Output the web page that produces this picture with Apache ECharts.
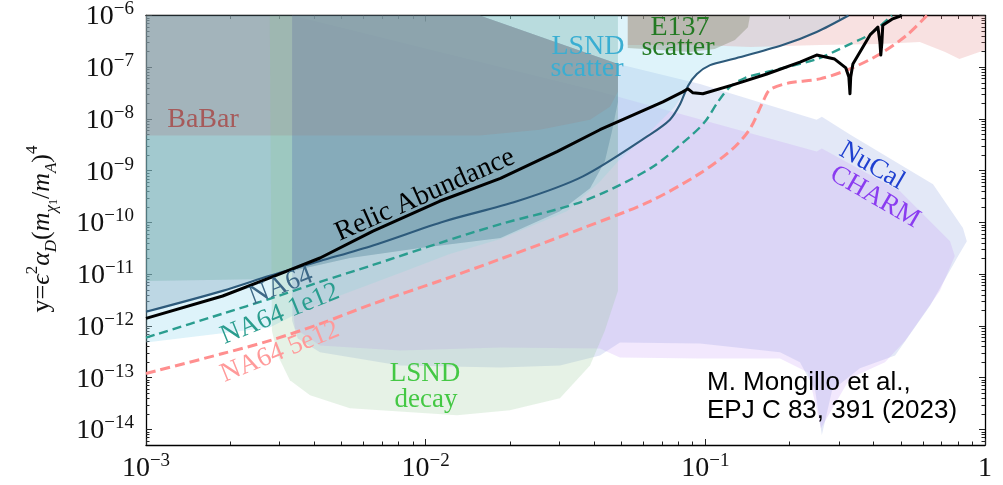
<!DOCTYPE html>
<html><head><meta charset="utf-8">
<script src="https://cdn.jsdelivr.net/npm/echarts@6/dist/echarts.min.js"></script>
<style>html,body{margin:0;padding:0;background:#fff}#c{width:1003px;height:485px}</style>
</head><body><div id="c"></div>
<script>
// ---- axis ticks (decade exponents) ----
const xTickExps = [-3, -2, -1, 0];
const yTickExps = [-14, -13, -12, -11, -10, -9, -8, -7, -6];

// ---- curves: [m_chi1 (GeV), y] ----
const relicAbundance = [[1e-3,1.4e-12],[1.88e-3,3.8e-12],[2.77e-3,8.5e-12],[4.19e-3,2.06e-11],[6.48e-3,6.8e-11],[1.12e-2,2.57e-10],[1.85e-2,7.1e-10],[2.95e-2,2.35e-9],[4.2e-2,6.2e-9],[7.05e-2,2.15e-8],[8.3e-2,3.35e-8],[8.67e-2,3.83e-8],[9.03e-2,3.2e-8],[9.8e-2,3.07e-8],[0.1255,4.57e-8],[0.166,7.4e-8],[0.218,1.26e-7],[0.25,1.72e-7],[0.29,1.44e-7],[0.318,9.7e-8],[0.326,6.5e-8],[0.329,3.07e-8],[0.331,6.5e-8],[0.337,1.16e-7],[0.388,4.2e-7],[0.414,5.96e-7],[0.421,3.07e-7],[0.424,1.72e-7],[0.428,3.07e-7],[0.431,6.5e-7],[0.465,8.5e-7],[0.504,1e-6]];
const na64 = [[1e-3,1.88e-12],[1.88e-3,4.77e-12],[2.77e-3,9.3e-12],[4.19e-3,1.8e-11],[6.48e-3,3.6e-11],[1.17e-2,1.06e-10],[2.12e-2,2.57e-10],[3.65e-2,7.8e-10],[6.34e-2,5e-9],[7.47e-2,9.7e-9],[8.1e-2,1.88e-8],[8.67e-2,4.36e-8],[9.33e-2,7.4e-8],[0.104,1.1e-7],[0.1255,1.44e-7],[0.189,2.68e-7],[0.25,4.8e-7],[0.325,1e-6]];
const na64_1e12 = [[1e-3,5.96e-13],[1.88e-3,1.73e-12],[2.77e-3,3.35e-12],[4.19e-3,7.1e-12],[6.48e-3,1.51e-11],[1.12e-2,4e-11],[1.85e-2,9.3e-11],[3.65e-2,2.57e-10],[6.34e-2,1.1e-9],[8.81e-2,4.57e-9],[0.0998,8.9e-9],[0.111,2.15e-8],[0.1225,4.18e-8],[0.1386,6.2e-8],[0.166,8.1e-8],[0.25,1.44e-7],[0.329,2.8e-7],[0.388,4.36e-7],[0.465,1e-6]];
const na64_5e12 = [[1e-3,1.21e-13],[1.88e-3,2.93e-13],[2.77e-3,5.2e-13],[4.19e-3,1.1e-12],[6.48e-3,2.68e-12],[1.12e-2,7.4e-12],[1.85e-2,1.97e-11],[3.65e-2,7.8e-11],[6.34e-2,2.57e-10],[9.57e-2,8.9e-10],[0.1255,2.68e-9],[0.1445,6.5e-9],[0.1607,2.15e-8],[0.17,3.66e-8],[0.2,5e-8],[0.257,5.96e-8],[0.329,9.3e-8],[0.421,1.8e-7],[0.526,4.2e-7],[0.62,1e-6]];

// ---- excluded regions (polygon outlines) ----
const nucalRegion = [[3.33e-3,1e-6],[0.0156,1e-6],[0.0487,1.16e-7],[0.0957,4.77e-8],[0.25,9.7e-9],[0.261,1.1e-8],[0.329,5e-9],[0.652,5.46e-10],[0.834,7.8e-11],[0.861,4.36e-11],[0.794,2.06e-11],[0.636,2.46e-12],[0.477,2.7e-13],[0.357,1.52e-13],[0.284,5.75e-14],[0.261,7.8e-15],[0.247,5.75e-14],[0.218,2e-13],[0.185,3.1e-13],[0.0957,4.6e-13],[0.0495,4.8e-13],[0.042,2.7e-13],[0.0302,1.73e-13],[0.0185,1.58e-13],[8.1e-3,1.73e-13],[4.19e-3,3.1e-13],[3.49e-3,5.75e-13],[3.33e-3,1.26e-12]];
const charmRegion = [[3.33e-3,1e-6],[0.042,3.35e-8],[0.25,2.35e-9],[0.261,2.7e-9],[0.497,4e-10],[0.75,4.36e-11],[0.78,2.25e-11],[0.69,4.8e-12],[0.518,5.2e-13],[0.439,2e-13],[0.329,9.8e-14],[0.259,1.06e-14],[0.233,1.26e-13],[0.185,2.35e-13],[0.0957,2.35e-13],[0.0495,2.45e-13],[0.042,3.66e-13],[0.0185,3.83e-13],[8.1e-3,3.35e-13],[4.19e-3,4.18e-13],[3.41e-3,8.9e-13],[3.33e-3,3.1e-12]];
const na64BandRegion = [[1e-3,4.8e-13],[2.77e-3,9.3e-13],[3.95e-3,2.46e-12],[8.1e-3,1.06e-11],[0.0122,2.45e-11],[0.0185,4.78e-11],[0.032,1.65e-10],[0.042,6.2e-10],[0.0487,1.51e-9],[0.0634,5.7e-9],[0.0778,1.72e-8],[0.0867,4.36e-8],[0.0933,7.4e-8],[0.104,1.1e-7],[0.1255,1.44e-7],[0.189,2.68e-7],[0.25,4.8e-7],[0.325,1e-6],[1e-3,1e-6]];
const na64Region = [[1e-3,1.88e-12],[1.88e-3,4.77e-12],[2.77e-3,9.3e-12],[4.19e-3,1.8e-11],[6.48e-3,3.6e-11],[1.17e-2,1.06e-10],[2.12e-2,2.57e-10],[3.65e-2,7.8e-10],[0.0487,2.04e-9],[0.0487,1.16e-7],[0.0156,1e-6],[1e-3,1e-6]];
const lsndScatterRegion = [[1e-3,1e-6],[0.0487,1e-6],[0.0487,2.15e-8],[0.0463,5.7e-9],[0.0437,1.51e-9],[0.0387,4.57e-10],[0.0302,1.65e-10],[0.0185,5e-11],[9.55e-3,3.2e-11],[5.36e-3,2.06e-11],[3.33e-3,1.16e-11],[2.77e-3,8.1e-12],[1e-3,7.4e-12]];
const e137Region = [[3.33e-3,1e-6],[0.0156,1e-6],[0.0487,1.16e-7],[0.0487,2.15e-8],[0.0463,5.7e-9],[0.0437,1.51e-9],[0.0387,4.57e-10],[0.0302,1.65e-10],[0.0185,5e-11],[9.55e-3,3.2e-11],[5.36e-3,2.06e-11],[3.33e-3,1.16e-11]];
const e137TopRegion = [[0.0528,1e-6],[0.1445,1e-6],[0.142,5.96e-7],[0.1276,3.35e-7],[0.108,2.25e-7],[0.0881,1.97e-7],[0.0689,2.15e-7],[0.0528,2.35e-7]];
const babarLowRegion = [[1e-3,1e-6],[0.0156,1e-6],[0.0487,1.16e-7],[0.0487,3.35e-8],[0.0456,1.72e-8],[0.0387,9.7e-9],[0.0256,6.2e-9],[0.0156,4.8e-9],[1e-3,4.8e-9]];
const babarHighRegion = [[0.0528,1e-6],[1,1e-6],[1,2.15e-7],[0.81,1.44e-7],[0.72,1.97e-7],[0.585,3.07e-7],[0.42,2.8e-7],[0.257,2.7e-7],[0.145,2.45e-7],[0.0957,2.7e-7],[0.0528,2.7e-7]];
const lsndDecayRegion = [[2.77e-3,1e-6],[0.0156,1e-6],[0.0487,1.16e-7],[0.0487,4.8e-12],[0.0437,8.1e-13],[0.0387,1.73e-13],[0.0302,4e-14],[0.02,2.36e-14],[0.01294,1.88e-14],[5.36e-3,2.57e-14],[3.86e-3,4.57e-14],[3.27e-3,8.9e-14],[2.96e-3,2.7e-13],[2.82e-3,8.1e-13]];

const X_MIN = 1e-3, X_MAX = 1, Y_MIN = Math.pow(10, -14.3), Y_MAX = 1e-6;
const SERIF = '"Liberation Serif", "DejaVu Serif", serif';
const SANS = '"Liberation Sans", Arial, sans-serif';

function decades(exps){ return exps.map(e => Math.pow(10, e)); }
function minorVals(lo, hi, vmin, vmax){
  const r = [];
  for (let e = lo; e < hi; e++) for (let k = 2; k <= 9; k++) { const v = k * Math.pow(10, e); if (v > vmin && v < vmax) r.push(v); }
  return r;
}
function fmtTick(v){
  const e = Math.round(Math.log10(v));
  if (e === 0) return '{b|1}';
  return '{b|10}{s|\u2212' + (-e) + '}';
}
const tickRich = {
  b: {fontSize: 28, fontFamily: SERIF, color: '#111', lineHeight: 31, verticalAlign: 'bottom'},
  s: {fontSize: 19, fontFamily: SERIF, color: '#111', lineHeight: 19, verticalAlign: 'top'}
};
function axis(kind, pos, vals, len, labels, line){
  return {
    type: 'log', logBase: 10, position: pos, gridIndex: 0,
    min: kind === 'x' ? X_MIN : Y_MIN, max: kind === 'x' ? X_MAX : Y_MAX,
    axisLine: {show: line, onZero: false, lineStyle: {color: '#000', width: 1.3}},
    axisTick: {show: true, inside: true, length: len, customValues: vals, lineStyle: {color: '#222', width: 1}},
    axisLabel: labels ? {show: true, customValues: vals, formatter: fmtTick, rich: tickRich, margin: kind === 'x' ? 7 : 12} : {show: false},
    splitLine: {show: false}, minorTick: {show: false}, minorSplitLine: {show: false}
  };
}
const xMaj = decades(xTickExps), yMaj = decades(yTickExps);
const xMin = minorVals(-3, 0, X_MIN, X_MAX), yMin = minorVals(-15, -6, Y_MIN, Y_MAX);

function poly(pts, color, z){
  return {type: 'custom', xAxisIndex: 0, yAxisIndex: 0, z: z, silent: true, clip: true,
    data: [[0.01, 1e-8]],
    renderItem: function(params, api){
      return {type: 'polygon', shape: {points: pts.map(p => api.coord(p))}, style: {fill: color, stroke: null}};
    }};
}
function line(data, color, width, dash, z, smooth){
  return {type: 'line', xAxisIndex: 0, yAxisIndex: 0, data: data, showSymbol: false, symbol: 'none', z: z, silent: true,
    smooth: smooth || false, clip: true,
    lineStyle: {color: color, width: width, type: dash || 'solid', cap: 'butt', join: 'round'}};
}
function lab(text, x, y, color, size, rotDeg, family){
  return {type: 'text', x: x, y: y, rotation: (rotDeg || 0) * Math.PI / 180, z: 100,
    style: {text: text, fill: color, fontSize: size, fontFamily: family || SERIF,
      textAlign: 'center', textVerticalAlign: 'middle', align: 'center', verticalAlign: 'middle'}};
}

const chart = echarts.init(document.getElementById('c'), null, {renderer: 'canvas'});
chart.setOption({
  animation: false,
  backgroundColor: '#fff',
  grid: {left: 146, right: 18, top: 13, bottom: 40, containLabel: false},
  xAxis: [
    axis('x', 'bottom', xMaj, 6, true, true),
    axis('x', 'top', xMaj, 6, false, true),
    axis('x', 'bottom', xMin, 3.5, false, false),
    axis('x', 'top', xMin, 3.5, false, false)
  ],
  yAxis: [
    axis('y', 'left', yMaj, 6, true, true),
    axis('y', 'right', yMaj, 6, false, true),
    axis('y', 'left', yMin, 3.5, false, false),
    axis('y', 'right', yMin, 3.5, false, false)
  ],
  series: [
    poly(nucalRegion, 'rgba(150,170,225,0.27)', 1),
    poly(charmRegion, 'rgba(192,142,247,0.2)', 2),
    poly(na64BandRegion, 'rgba(160,220,240,0.35)', 3),
    poly(na64Region, 'rgba(111,153,180,0.3)', 4),
    poly(lsndScatterRegion, 'rgba(100,170,160,0.3)', 5),
    poly(e137Region, 'rgba(70,85,180,0.22)', 6),
    poly(babarLowRegion, 'rgba(170,100,110,0.2)', 7),
    poly(babarHighRegion, 'rgba(225,120,120,0.22)', 7),
    poly(e137TopRegion, 'rgba(120,125,95,0.35)', 8),
    poly(lsndDecayRegion, 'rgba(141,195,139,0.22)', 9),
    line(na64_5e12, '#ff8f8f', 3, [10, 5], 20, 0.3),
    line(na64_1e12, '#2a9d8f', 2.4, [9, 5], 21, 0.3),
    line(na64, '#2d5a7b', 2.1, false, 22, 0.3),
    line(relicAbundance, '#000', 3, false, 23, false)
  ],
  graphic: [
    lab('BaBar', 203, 120, '#a65a5a', 28),
    lab('LSND', 588, 47, '#3aaed2', 28),
    lab('scatter', 587, 69, '#3aaed2', 28),
    lab('E137', 680, 28, '#237a23', 28),
    lab('scatter', 678, 48, '#237a23', 28),
    lab('NuCal', 872, 166, '#1f40d0', 27, -30),
    lab('CHARM', 875, 197, '#8a3cf0', 27, -30),
    lab('Relic Abundance', 425, 195, '#000', 28, 24),
    lab('NA64', 281, 286, '#3d6887', 27, 21),
    lab('NA64 1e12', 280, 314, '#2a9d8f', 27, 22),
    lab('NA64 5e12', 280, 352, '#ff9a9a', 27, 22),
    lab('LSND', 425, 374, '#44c844', 27),
    lab('decay', 426, 400, '#44c844', 27),
    {type: 'text', x: 707, y: 383, z: 100, style: {text: 'M. Mongillo et al.,', fill: '#000', fontSize: 26, fontFamily: SANS, textAlign: 'left', align: 'left', textVerticalAlign: 'middle', verticalAlign: 'middle'}},
    {type: 'text', x: 707, y: 411, z: 100, style: {text: 'EPJ C 83, 391 (2023)', fill: '#000', fontSize: 26, fontFamily: SANS, textAlign: 'left', align: 'left', textVerticalAlign: 'middle', verticalAlign: 'middle'}},
    {type: 'text', x: 42, y: 229, rotation: Math.PI / 2, z: 100,
      style: {text: '{n|y=}{i|\u03F5}{s|2}{i|\u03B1}{d|D}{n|(}{i|m}{d|\u03C7}{dd|1}{n|/}{i|m}{d|A}{n|)}{s|4}',
        align: 'center', verticalAlign: 'middle', textAlign: 'center', textVerticalAlign: 'middle',
        rich: {
          n: {fontSize: 26, fontFamily: SERIF, fill: '#111', lineHeight: 36, verticalAlign: 'middle'},
          i: {fontSize: 26, fontFamily: SERIF, fontStyle: 'italic', fill: '#111', lineHeight: 36, verticalAlign: 'middle'},
          s: {fontSize: 17, fontFamily: SERIF, fill: '#111', lineHeight: 17, verticalAlign: 'top'},
          d: {fontSize: 17, fontFamily: SERIF, fontStyle: 'italic', fill: '#111', lineHeight: 17, verticalAlign: 'bottom'},
          dd: {fontSize: 12, fontFamily: SERIF, fill: '#111', lineHeight: 12, verticalAlign: 'bottom'}
        }}}
  ]
});
</script>
</body></html>
